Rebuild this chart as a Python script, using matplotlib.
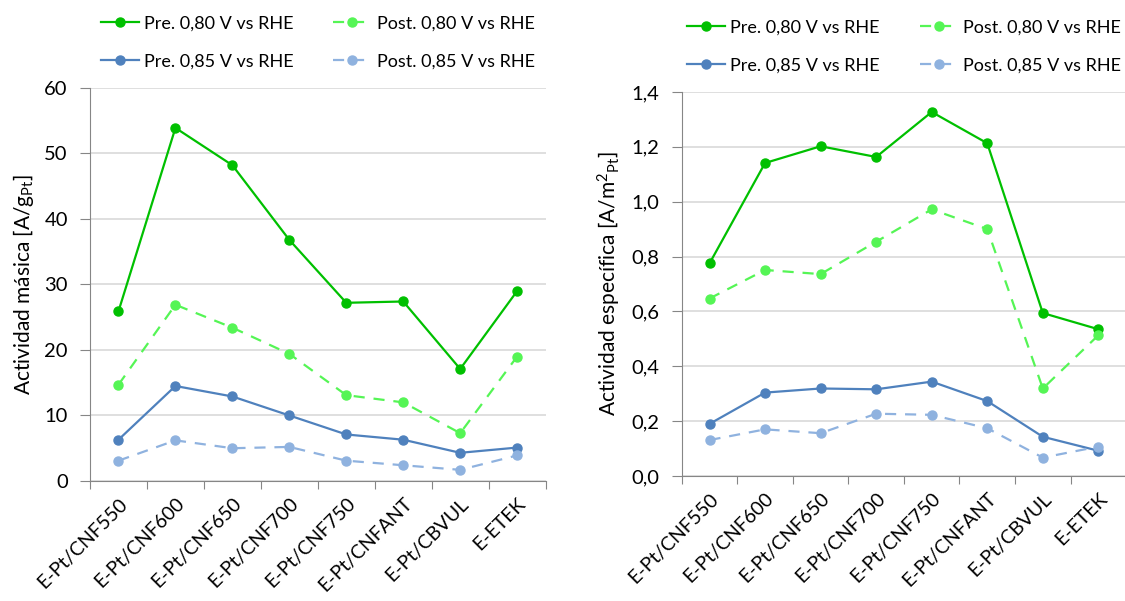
import matplotlib
matplotlib.use("Agg")
import matplotlib.pyplot as plt
import numpy as np

plt.rcParams['font.family'] = ['Lato', 'DejaVu Sans']
plt.rcParams['mathtext.default'] = 'regular'

categories = ['E-Pt/CNF550', 'E-Pt/CNF600', 'E-Pt/CNF650', 'E-Pt/CNF700',
              'E-Pt/CNF750', 'E-Pt/CNFANT', 'E-Pt/CBVUL', 'E-ETEK']

# mass activity [A/g_Pt]
mass_pre_080 = [25.9, 53.9, 48.2, 36.8, 27.2, 27.4, 17.1, 29.0]
mass_post_080 = [14.7, 26.9, 23.4, 19.4, 13.1, 12.0, 7.3, 19.0]
mass_pre_085 = [6.3, 14.5, 12.9, 10.0, 7.1, 6.3, 4.3, 5.1]
mass_post_085 = [3.1, 6.2, 5.0, 5.2, 3.1, 2.4, 1.7, 3.9]

# specific activity [A/m2_Pt]
spec_pre_080 = [0.775, 1.141, 1.202, 1.163, 1.327, 1.213, 0.594, 0.535]
spec_post_080 = [0.647, 0.751, 0.736, 0.854, 0.972, 0.900, 0.319, 0.513]
spec_pre_085 = [0.190, 0.304, 0.319, 0.316, 0.344, 0.273, 0.143, 0.092]
spec_post_085 = [0.131, 0.170, 0.156, 0.227, 0.223, 0.174, 0.067, 0.107]

labels = ['Pre. 0,80 V vs RHE', 'Post. 0,80 V vs RHE',
          'Pre. 0,85 V vs RHE', 'Post. 0,85 V vs RHE']
colors = ['#00C000', '#55F555', '#4F81BD', '#8FB2DF']
styles = ['-', '--', '-', '--']

fig = plt.figure(figsize=(11.25, 6.01), dpi=100)
ax1 = fig.add_axes([0.080, 0.1997, 0.405, 0.654])
ax2 = fig.add_axes([0.606, 0.208, 0.395, 0.639])

x = np.arange(len(categories))


def draw(ax, series, ymax, ystep, fmt, ylabel):
    lines = []
    for vals, lab, c, ls in zip(series, labels, colors, styles):
        ln, = ax.plot(x, vals, ls, color=c, lw=1.6, marker='o', ms=6.5,
                      label=lab, dashes=(5, 4) if ls == '--' else (None, None))
        lines.append(ln)
    ax.set_xlim(-0.5, len(categories) - 0.5)
    ax.set_ylim(0, ymax)
    yt = np.arange(0, ymax + ystep / 2, ystep)
    ax.set_yticks(yt)
    ax.set_yticklabels([fmt(v) for v in yt], fontsize=14.5)
    ax.set_xticks(np.arange(-0.5, len(categories), 1.0))
    ax.set_xticklabels([])
    ax.set_xticks(x, minor=True)
    ax.set_xticklabels(categories, minor=True, rotation=45, ha='right',
                       rotation_mode='anchor', fontsize=14)
    ax.tick_params(axis='x', which='minor', length=0, pad=10)
    ax.tick_params(axis='x', which='major', length=6, color='#868686')
    ax.tick_params(axis='y', length=7, color='#868686', pad=9)
    ax.grid(axis='y', color='#D9D9D9', lw=1.2)
    ax.set_axisbelow(True)
    for s in ['top', 'right']:
        ax.spines[s].set_visible(False)
    for s in ['left', 'bottom']:
        ax.spines[s].set_color('#868686')
    ax.set_ylabel(ylabel, fontsize=15, labelpad=6)
    order = [0, 2, 1, 3]
    ax.legend([lines[i] for i in order], [labels[i] for i in order],
              ncol=2, frameon=False, fontsize=13, loc='lower center',
              bbox_to_anchor=(0.5, 1.005), handlelength=2.1,
              labelspacing=1.25, columnspacing=2.2, handletextpad=0.3)


draw(ax1, [mass_pre_080, mass_post_080, mass_pre_085, mass_post_085],
     60, 10, lambda v: '%d' % v, 'Actividad másica [A/g$_{Pt}$]')
draw(ax2, [spec_pre_080, spec_post_080, spec_pre_085, spec_post_085],
     1.4, 0.2, lambda v: ('%.1f' % v).replace('.', ','),
     'Actividad específica [A/m$^{2}$$_{Pt}$]')

fig.savefig('out.png', dpi=100)
